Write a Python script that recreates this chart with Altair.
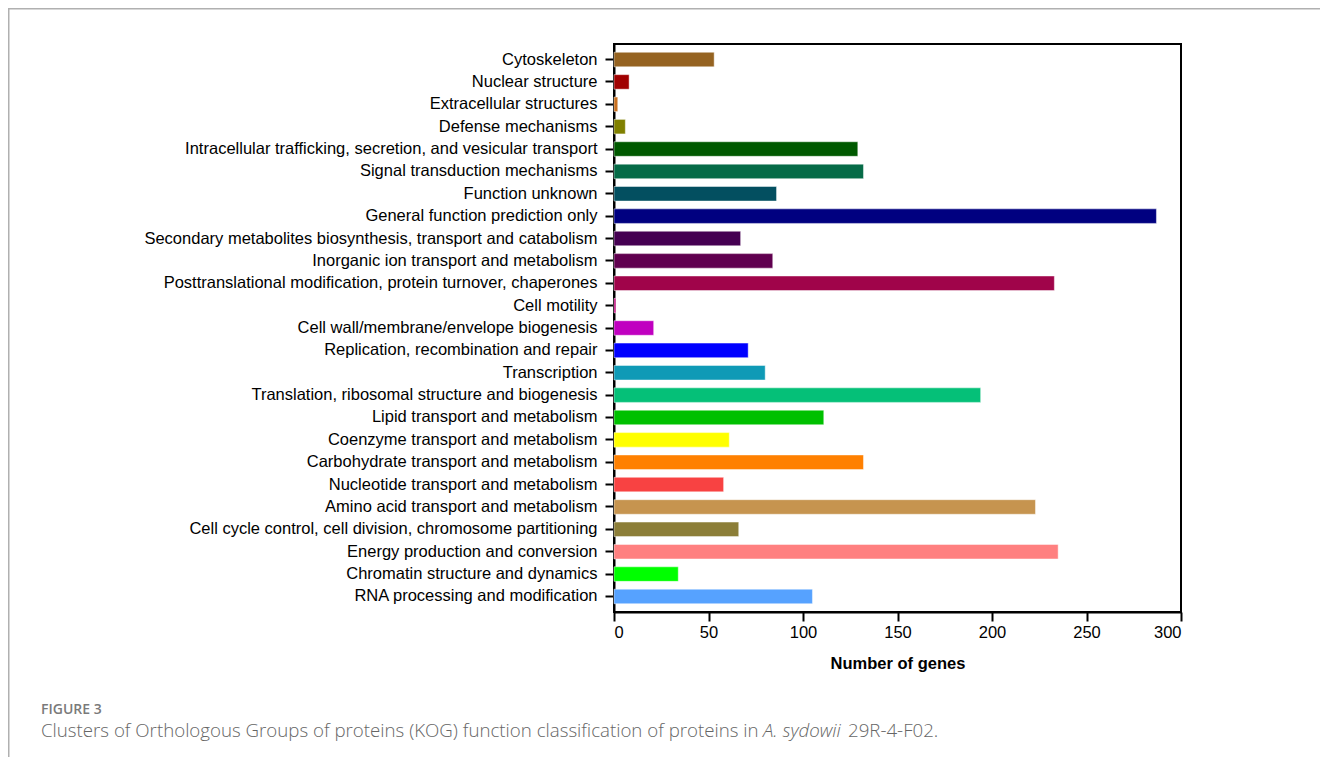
import altair as alt
import pandas as pd

categories = [
    "Cytoskeleton",
    "Nuclear structure",
    "Extracellular structures",
    "Defense mechanisms",
    "Intracellular trafficking, secretion, and vesicular transport",
    "Signal transduction mechanisms",
    "Function unknown",
    "General function prediction only",
    "Secondary metabolites biosynthesis, transport and catabolism",
    "Inorganic ion transport and metabolism",
    "Posttranslational modification, protein turnover, chaperones",
    "Cell motility",
    "Cell wall/membrane/envelope biogenesis",
    "Replication, recombination and repair",
    "Transcription",
    "Translation, ribosomal structure and biogenesis",
    "Lipid transport and metabolism",
    "Coenzyme transport and metabolism",
    "Carbohydrate transport and metabolism",
    "Nucleotide transport and metabolism",
    "Amino acid transport and metabolism",
    "Cell cycle control, cell division, chromosome partitioning",
    "Energy production and conversion",
    "Chromatin structure and dynamics",
    "RNA processing and modification",
]
counts = [53, 8, 2, 6, 129, 132, 86, 287, 67, 84, 233, 1, 21, 71, 80, 194,
          111, 61, 132, 58, 223, 66, 235, 34, 105]
colors = [
    "#956321", "#A00000", "#C87020", "#808000", "#005900", "#066B47",
    "#034F60", "#000080", "#450052", "#60004F", "#A0044A", "#C0007A",
    "#C000C0", "#0000FF", "#0F9AB6", "#05C078", "#00C000", "#FFFF00",
    "#FF8000", "#F84242", "#C6944F", "#8C7E38", "#FF8080", "#00FF00",
    "#56A2FF",
]
x_ticks = [0, 50, 100, 150, 200, 250, 300]
x_title = "Number of genes"
fig_label = "FIGURE 3"
caption_1 = "Clusters of Orthologous Groups of proteins (KOG) function classification of proteins in"
caption_2 = "A. sydowii"
caption_3 = "29R-4-F02."

df = pd.DataFrame({"category": categories, "count": counts})
one = pd.DataFrame({"k": [0]})

W, H = 567, 568
PL, PT = 606, 36
TOTAL_W, TOTAL_H = 1312, 749
AX_FONT = "Arial, Liberation Sans, Helvetica, sans-serif"
AX_SIZE = 16.5

bars = alt.Chart(df).mark_bar(stroke="white", strokeOpacity=0.45, strokeWidth=1).encode(
    y=alt.Y(
        "category:N",
        sort=categories,
        scale=alt.Scale(paddingInner=0.35, paddingOuter=0.37),
        axis=alt.Axis(
            title=None, labelFontSize=AX_SIZE, labelColor="black", labelFont=AX_FONT,
            tickSize=9, tickWidth=2, tickColor="black", domainColor="black", domainWidth=2,
            labelPadding=8, labelLimit=700,
        ),
    ),
    x=alt.X(
        "count:Q",
        scale=alt.Scale(domain=[0, 300], nice=False),
        axis=alt.Axis(
            title=x_title, values=x_ticks, grid=False, labelFontSize=AX_SIZE, labelColor="black",
            labelFont=AX_FONT, tickSize=9, tickWidth=2, tickColor="black",
            domainColor="black", domainWidth=2, labelPadding=3, titleFontSize=AX_SIZE,
            titleFont=AX_FONT, titleFontWeight="bold", titleColor="black",
            titlePadding=15,
        ),
    ),
    color=alt.Color("category:N", scale=alt.Scale(domain=categories, range=colors), legend=None),
)

frame_top = alt.Chart(one).mark_rule(color="#b0b0b0", strokeWidth=1.5).encode(
    x=alt.value(-PL), x2=alt.value(TOTAL_W - PL), y=alt.value(-PT + 0.75)
)
frame_left = alt.Chart(one).mark_rule(color="#b0b0b0", strokeWidth=1.5).encode(
    x=alt.value(-PL + 0.75), y=alt.value(-PT), y2=alt.value(TOTAL_H - PT)
)

fig_text = alt.Chart(one).mark_text(
    text=fig_label, align="left", baseline="middle", font="Open Sans", fontSize=14,
    fontWeight=600, color="#7a7a7a",
).encode(x=alt.value(41 - 8 - PL), y=alt.value(710 - 8 - PT))

CAP_SIZE = 18.7
cap1 = alt.Chart(one).mark_text(
    text=caption_1, align="left", baseline="middle", font="Open Sans", fontSize=CAP_SIZE,
    fontWeight=300, color="#666666",
).encode(x=alt.value(41 - 8 - PL), y=alt.value(731 - 8 - PT))
cap2 = alt.Chart(one).mark_text(
    text=caption_2, align="left", baseline="middle", font="Open Sans", fontSize=CAP_SIZE,
    fontWeight=300, fontStyle="italic", color="#666666",
).encode(x=alt.value(763 - 8 - PL), y=alt.value(731 - 8 - PT))
cap3 = alt.Chart(one).mark_text(
    text=caption_3, align="left", baseline="middle", font="Open Sans", fontSize=CAP_SIZE,
    fontWeight=300, color="#666666",
).encode(x=alt.value(848 - 8 - PL), y=alt.value(731 - 8 - PT))

chart = alt.layer(bars, frame_top, frame_left, fig_text, cap1, cap2, cap3).properties(
    width=W,
    height=H,
    autosize=alt.AutoSizeParams(type="none"),
    padding={"left": PL, "top": PT, "right": TOTAL_W - PL - W, "bottom": TOTAL_H - PT - H},
).configure_view(stroke="black", strokeWidth=2)

chart.save("out.html", embed_options={"renderer": "svg", "actions": False})
